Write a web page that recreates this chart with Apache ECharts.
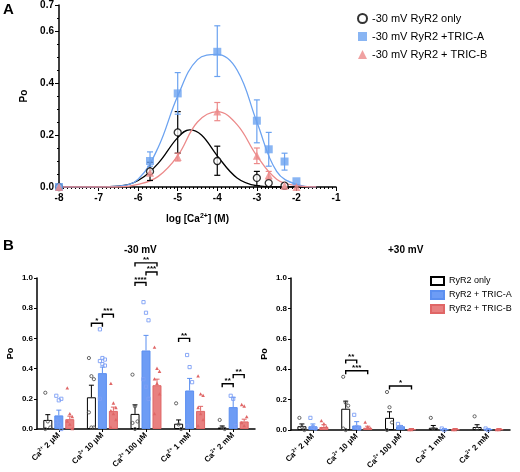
<!DOCTYPE html>
<html><head><meta charset="utf-8">
<script src="https://cdn.jsdelivr.net/npm/echarts@6/dist/echarts.min.js"></script>
<style>html,body{margin:0;background:#fff}#c{width:520px;height:472px}</style>
</head><body><div id="c"></div>
<script>
// ---- panel A : dose response ----
var onlyPts = [[-8,0],[-5.7,0.06],[-5,0.21],[-4,0.10],[-3,0.035],[-2.7,0.015],[-2.3,0.005]];
var onlyErr = [[-5.7,0.025,0.095],[-5,0.13,0.29],[-4,0.045,0.157],[-3,0.005,0.06]];
var triaPts = [[-8,0],[-5.7,0.10],[-5,0.36],[-4,0.52],[-3,0.255],[-2.7,0.145],[-2.3,0.098],[-2,0.022]];
var triaErr = [[-5.7,0.08,0.135],[-5,0.28,0.44],[-4,0.425,0.62],[-3,0.17,0.335],[-2.7,0.08,0.21],[-2.3,0.065,0.13]];
var tribPts = [[-8,0],[-5.7,0.055],[-5,0.115],[-4,0.29],[-3,0.12],[-2.7,0.045],[-2.3,0.005],[-2,0]];
var tribErr = [[-5,0.1,0.13],[-4,0.255,0.325],[-3,0.09,0.15],[-2.7,0.03,0.06]];
var onlyFit = [[-8,0],[-7,0],[-6.5,0.003],[-6,0.025],[-5.5,0.09],[-5,0.19],[-4.7,0.22],[-4.4,0.2],[-4,0.12],[-3.5,0.035],[-3,0.005],[-2.5,0],[-1.5,0]];
var triaFit = [[-8,0],[-7,0],[-6.5,0.003],[-6,0.03],[-5.5,0.15],[-5,0.35],[-4.5,0.49],[-4,0.51],[-3.5,0.45],[-3,0.25],[-2.5,0.06],[-2,0.01],[-1.5,0]];
var tribFit = [[-8,0],[-7,0],[-6.5,0],[-6,0.01],[-5.5,0.04],[-5,0.12],[-4.5,0.25],[-4,0.29],[-3.5,0.24],[-3,0.12],[-2.5,0.03],[-2,0.005],[-1.5,0]];

// ---- panel B : bars ----
var cats = ['2 μM','10 μM','100 μM','1 mM','2 mM'];
var negMean = [[0.06,0.21,0.10,0.035,0.01],[0.09,0.37,0.52,0.255,0.145],[0.065,0.12,0.29,0.12,0.05]];
var negErr  = [[0.095,0.29,0.16,0.06,0.02],[0.125,0.41,0.62,0.335,0.21],[0.085,0.145,0.33,0.15,0.065]];
var posMean = [[0.025,0.14,0.08,0.015,0.02],[0.025,0.03,0.025,0.005,0.005],[0.02,0.015,0.005,0.005,0.005]];
var posErr  = [[0.04,0.19,0.12,0.03,0.035],[0.04,0.055,0.03,0.01,0.01],[0.035,0.025,0.01,0.01,0.01]];
var negDots = [
  [[0.24,0.05,0.01,0],[0.47,0.35,0.33,0.11,0.01,0.01],[0.36,0.15,0.05,0.04,0],[0.17,0.03,0],[0.06,0.01,0]],
  [[0.22,0.19,0.2,0.05,0.03,0],[0.66,0.47,0.46,0.45,0.43,0.42,0.2],[0.84,0.77,0.72,0.33,0.28,0.2],[0.49,0.41,0.31,0.02],[0.22,0.2,0.02]],
  [[0.27,0.1,0.08,0.05,0.03,0],[0.3,0.17,0.14,0.12,0.1,0.06,0.01],[0.54,0.4,0.38,0.33,0.3,0.23,0.1],[0.35,0.23,0.22,0.14,0.1,0.06,0.02],[0.16,0.15,0.08,0.04,0.02]]
];
var posDots = [
  [[0.08,0.02,0],[0.35,0.18,0.16,0.01,0],[0.25,0.15,0.05,0],[0.08,0.01],[0.09,0.01]],
  [[0.08,0.02,0.01],[0.1,0.02,0.01],[0.04,0.02],[0.01,0],[0.01,0]],
  [[0.06,0.04,0.02,0.01],[0.05,0.02,0.01],[0,0],[0,0],[0,0]]
];
// [category, from bar, to bar, height, stars]
var negSig = [[1,0,1,0.70,'*'],[1,1,2,0.76,'***'],[2,0,1,0.97,'****'],[2,1,2,1.04,'***'],[2,0,2,1.10,'**'],[3,0,1,0.60,'**'],[4,0,1,0.30,'**'],[4,1,2,0.36,'**']];
var posSig = [[1,0,1,0.46,'**'],[1,0,2,0.39,'***'],[2,0,2,0.29,'*']];

var names = ['RyR2 only','RyR2 + TRIC-A','RyR2 + TRIC-B'];
var lineCol = ['#000','#5b8ff0','#e06666'];
var fillCol = ['#fff','#6d9cf5','#e88080'];
var aCol = ['#000','#6ba2f0','#ec8a8a'];
var F = 'Liberation Sans';
var offs = [-11,0,11];

var chart = echarts.init(document.getElementById('c'));

function errA(col) {
  return function (p, api) {
    var x = api.value(0), lo = api.coord([x, api.value(1)]), hi = api.coord([x, api.value(2)]);
    var st = {stroke: col, lineWidth: 1.2};
    return {type: 'group', children: [
      {type: 'line', shape: {x1: lo[0], y1: lo[1], x2: hi[0], y2: hi[1]}, style: st},
      {type: 'line', shape: {x1: lo[0]-3, y1: lo[1], x2: lo[0]+3, y2: lo[1]}, style: st},
      {type: 'line', shape: {x1: hi[0]-3, y1: hi[1], x2: hi[0]+3, y2: hi[1]}, style: st}
    ]};
  };
}
function errB(k) {
  return function (p, api) {
    var c = api.value(0), m = api.coord([c, api.value(1)]), h = api.coord([c, api.value(2)]);
    var x = m[0] + offs[k], st = {stroke: lineCol[k], lineWidth: 1};
    return {type: 'group', children: [
      {type: 'line', shape: {x1: x, y1: m[1], x2: x, y2: h[1]}, style: st},
      {type: 'line', shape: {x1: x-2.5, y1: h[1], x2: x+2.5, y2: h[1]}, style: st}
    ]};
  };
}
function dotsB(k) {
  return function (p, api) {
    var c = api.value(0), j = api.value(2), pt = api.coord([c, api.value(1)]);
    var x = pt[0] + offs[k] + ((j % 3) - 1) * 2.5, y = pt[1];
    var st = k === 2 ? {fill: '#e06666'} : {fill: 'none', stroke: k === 0 ? '#555' : '#7d9ff5', lineWidth: 0.9};
    if (k === 0) return {type: 'circle', shape: {cx: x, cy: y, r: 1.6}, style: st};
    if (k === 1) return {type: 'rect', shape: {x: x-1.6, y: y-1.6, width: 3.2, height: 3.2}, style: st};
    return {type: 'polygon', shape: {points: [[x, y-2],[x-1.8, y+1.3],[x+1.8, y+1.3]]}, style: st};
  };
}
function sigB(p, api) {
  var c = api.value(0), a = api.value(1), b = api.value(2), y = api.value(3);
  var pt = api.coord([c, y]), x1 = pt[0] + offs[a], x2 = pt[0] + offs[b];
  var st = {stroke: '#000', lineWidth: 1.4, fill: 'none'};
  return {type: 'group', children: [
    {type: 'polyline', shape: {points: [[x1, pt[1]+3.5],[x1, pt[1]],[x2, pt[1]],[x2, pt[1]+3.5]]}, style: st},
    {type: 'text', x: (x1+x2)/2, y: pt[1]+1, style: {text: api.value(4), fill: '#000', font: 'bold 8px ' + F, align: 'center', verticalAlign: 'bottom'}}
  ]};
}

var series = [];
// panel A
[[onlyFit, onlyPts, onlyErr], [triaFit, triaPts, triaErr], [tribFit, tribPts, tribErr]].forEach(function (s, k) {
  var nm = '-30 mV ' + ['RyR2 only','RyR2 +TRIC-A','RyR2 + TRIC-B'][k];
  series.push({type: 'line', xAxisIndex: 0, yAxisIndex: 0, data: s[0], smooth: 0.4, showSymbol: false, silent: true,
    lineStyle: {color: aCol[k], width: 1.3}, z: 2});
  series.push({type: 'custom', xAxisIndex: 0, yAxisIndex: 0, data: s[2], renderItem: errA(aCol[k]), z: 3});
  series.push({name: nm, type: 'scatter', xAxisIndex: 0, yAxisIndex: 0, data: s[1],
    symbol: ['circle','rect','triangle'][k], symbolSize: [7,8,8][k],
    itemStyle: k === 0 ? {color: '#fff', borderColor: '#000', borderWidth: 1.3} : {color: aCol[k]}, z: 4});
});
// panel B
[[negMean, negErr, negDots, negSig, 1], [posMean, posErr, posDots, posSig, 2]].forEach(function (P) {
  var ax = P[4];
  for (var k = 0; k < 3; k++) {
    series.push({name: names[k], type: 'bar', xAxisIndex: ax, yAxisIndex: ax, data: P[0][k],
      barWidth: 9, barGap: '22%', itemStyle: {color: fillCol[k], borderColor: lineCol[k], borderWidth: 1}});
    series.push({type: 'custom', xAxisIndex: ax, yAxisIndex: ax, z: 3,
      data: P[0][k].map(function (v, c) { return [c, v, P[1][k][c]]; }), renderItem: errB(k)});
    var d = [];
    P[2][k].forEach(function (arr, c) { arr.forEach(function (v, j) { d.push([c, v, j]); }); });
    series.push({type: 'custom', xAxisIndex: ax, yAxisIndex: ax, z: 4, data: d, renderItem: dotsB(k)});
  }
  series.push({type: 'custom', xAxisIndex: ax, yAxisIndex: ax, z: 5, clip: false, data: P[3], renderItem: sigB});
});

var txt = {fontFamily: F, fontWeight: 'bold', color: '#000', fontSize: 10};
function yB() {
  return {type: 'value', min: 0, max: 1, interval: 0.2, axisLine: {show: true, lineStyle: {color: '#000', width: 1.5}},
    axisTick: {show: true, length: 3, lineStyle: {color: '#000'}}, splitLine: {show: false},
    axisLabel: Object.assign({}, txt, {fontSize: 8, margin: 4, formatter: function (v) { return v.toFixed(1); }}),
    name: 'Po', nameLocation: 'middle', nameGap: 22, nameRotate: 90, nameTextStyle: Object.assign({}, txt, {fontSize: 9})};
}
function xB(g) {
  return {type: 'category', gridIndex: g, data: cats, axisLine: {lineStyle: {color: '#000', width: 1.5}},
    axisTick: {show: true, alignWithLabel: true, length: 3, lineStyle: {color: '#000'}},
    axisLabel: {rotate: 45, margin: 5, interval: 0, formatter: function (v) { return '{b|Ca}{s|2+}{b| ' + v + '}'; },
      rich: {b: {fontFamily: F, fontWeight: 'bold', fontSize: 8, color: '#000'},
             s: {fontFamily: F, fontWeight: 'bold', fontSize: 5, color: '#000', verticalAlign: 'top', padding: [0,0,5,0]}}}};
}

chart.setOption({
  animation: false,
  grid: [
    {left: 59, top: 4, width: 277, height: 183},
    {left: 37, top: 278, width: 218, height: 151},
    {left: 291, top: 278, width: 219, height: 153}
  ],
  xAxis: [
    {type: 'value', gridIndex: 0, min: -8, max: -1, interval: 1, axisLine: {lineStyle: {color: '#000', width: 1.5}},
      axisTick: {length: 4, lineStyle: {color: '#000'}}, minorTick: {show: true, splitNumber: 10, length: 2, lineStyle: {color: '#000'}},
      splitLine: {show: false}, axisLabel: Object.assign({margin: 6}, txt),
      name: 'log [Ca{s|2+}] (M)', nameLocation: 'middle', nameGap: 26,
      nameTextStyle: Object.assign({rich: {s: {fontFamily: F, fontWeight: 'bold', fontSize: 7, verticalAlign: 'top', padding: [0,0,6,0]}}}, txt)},
    xB(1), xB(2)
  ],
  yAxis: [
    {type: 'value', gridIndex: 0, min: 0, max: 0.7, interval: 0.2, axisLine: {show: true, lineStyle: {color: '#000', width: 1.5}},
      axisTick: {show: true, length: 4, lineStyle: {color: '#000'}}, minorTick: {show: true, splitNumber: 4, length: 2, lineStyle: {color: '#000'}},
      splitLine: {show: false}, axisLabel: Object.assign({formatter: function (v) { return v.toFixed(1); }, margin: 5}, txt),
      name: 'Po', nameLocation: 'middle', nameGap: 30, nameRotate: 90, nameTextStyle: txt},
    Object.assign(yB(), {gridIndex: 1}), Object.assign(yB(), {gridIndex: 2})
  ],
  legend: [
    {data: ['-30 mV RyR2 only','-30 mV RyR2 +TRIC-A','-30 mV RyR2 + TRIC-B'], orient: 'vertical', left: 352, top: 8,
      itemGap: 7, itemWidth: 9, itemHeight: 9, textStyle: {fontFamily: F, fontSize: 11, color: '#000'}},
    {data: names, orient: 'vertical', left: 425, top: 271, itemGap: 4, icon: 'rect', itemWidth: 13, itemHeight: 8,
      textStyle: {fontFamily: F, fontSize: 9, color: '#000'}}
  ],
  graphic: [
    {type: 'text', left: 3, top: 2, style: {text: 'A', font: 'bold 15px ' + F, fill: '#000'}},
    {type: 'text', left: 3, top: 238, style: {text: 'B', font: 'bold 15px ' + F, fill: '#000'}},
    {type: 'text', left: 124, top: 245, style: {text: '-30 mV', font: 'bold 10px ' + F, fill: '#000'}},
    {type: 'text', left: 388, top: 245, style: {text: '+30 mV', font: 'bold 10px ' + F, fill: '#000'}}
  ],
  series: series
});
</script>
</body></html>
